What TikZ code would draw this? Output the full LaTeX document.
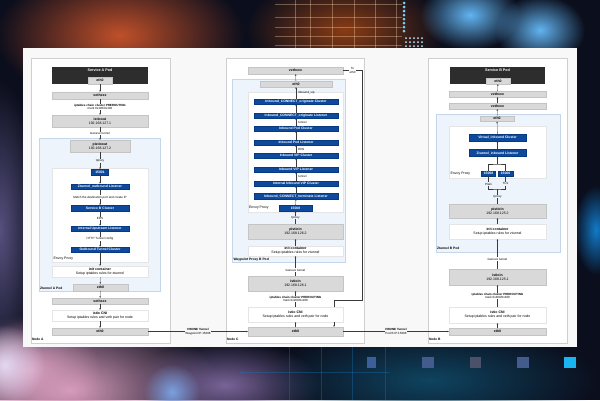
\documentclass[tikz,border=0pt]{standalone}
\usepackage{fontspec}
\setmainfont{Liberation Sans}
\usetikzlibrary{arrows.meta,fadings}

% soft blob for the backdrop
\tikzfading[name=glow, inner color=transparent!0, outer color=transparent!100]

% diagram colours
\definecolor{darkpod}{HTML}{2D2D2D}
\definecolor{greyfill}{HTML}{D9D9D9}
\definecolor{greyline}{HTML}{C4C4C4}
\definecolor{bluefill}{HTML}{0D4A9E}
\definecolor{blueline}{HTML}{083A80}
\definecolor{podfill}{HTML}{EEF4FB}
\definecolor{podline}{HTML}{C5D6EA}
\definecolor{nodeline}{HTML}{CFCFCF}
\definecolor{flowclr}{HTML}{3A3A3A}
\definecolor{panelclr}{HTML}{F8F8F8}
% backdrop colours
\definecolor{bgnavy}{HTML}{0B0E1C}
\definecolor{bgorange}{HTML}{C0502A}
\definecolor{bgrust}{HTML}{8A3C14}
\definecolor{bgpink}{HTML}{D79CBC}
\definecolor{bglilac}{HTML}{E4D8F2}
\definecolor{bgpurple}{HTML}{7A6498}
\definecolor{bgblue}{HTML}{7AA0E0}
\definecolor{bgteal}{HTML}{0F4460}
\definecolor{bgsky}{HTML}{62B4F0}
\definecolor{bgviolet}{HTML}{56507E}

\begin{document}
\begin{tikzpicture}[x=1pt, y=-1pt,
  >={Stealth[length=1.7pt,width=1.5pt]},
  every node/.style={font=\fontsize{3.5}{4.1}\selectfont, inner sep=0pt},
  nodebox/.style={draw=nodeline, fill=white, line width=0.4pt},
  podbox/.style={draw=podline, fill=podfill, line width=0.4pt},
  darkbox/.style={fill=darkpod},
  graybox/.style={draw=greyline, fill=greyfill, line width=0.3pt, align=center,
    font=\fontsize{3.5}{4.1}\selectfont\bfseries},
  whitebox/.style={draw=gray!20, fill=white, line width=0.3pt, align=center},
  bluebox/.style={draw=blueline, fill=bluefill, text=white, line width=0.3pt,
    minimum width=58, minimum height=5.5, font=\fontsize{3.4}{3.8}\selectfont\bfseries},
  lbl/.style={font=\fontsize{3}{3.5}\selectfont, align=center, inner sep=0.6pt},
  ttl/.style={font=\fontsize{3.3}{3.8}\selectfont\bfseries},
  flow/.style={draw=flowclr, line width=0.3pt},
  gridline/.style={line width=0.4pt, opacity=0.35}
]
  \useasboundingbox (0,0) rectangle (600,400);
  \clip (0,0) rectangle (600,400);

  % Backdrop
  \fill[bgnavy] (0,0) rectangle (600,400);
  \fill[bgorange, path fading=glow] (120,35) ellipse (125pt and 70pt);
  \fill[bgrust, path fading=glow] (345,30) ellipse (100pt and 55pt);
  \fill[bgviolet, path fading=glow] (0,230) ellipse (40pt and 150pt);
  \fill[bgpink, path fading=glow] (70,390) ellipse (150pt and 80pt);
  \fill[bgpink, path fading=glow] (30,370) ellipse (70pt and 50pt);
  \fill[bglilac, path fading=glow] (5,365) circle (40pt);
  \fill[bgpurple, path fading=glow] (225,385) ellipse (95pt and 45pt);
  \fill[bgblue, path fading=glow] (172,392) circle (28pt);
  \fill[bgteal, path fading=glow] (430,380) ellipse (170pt and 55pt);
  \fill[bgsky, path fading=glow] (470,15) ellipse (50pt and 35pt);
  \fill[bgsky, path fading=glow] (540,30) ellipse (45pt and 35pt);
  \fill[cyan!60!blue, path fading=glow] (596,230) ellipse (22pt and 45pt);

  % Grid lines of the backdrop
  \foreach \x in {295,310,332,354,375,396} {
    \draw[gridline, orange!30!white] (\x,0) -- (\x,48);
  }
  \foreach \y in {4,17,27,36,45} {
    \draw[gridline, orange!30!white] (275,\y) -- (402,\y);
  }
  \foreach \x in {289,321,352,385} {
    \draw[gridline, cyan!60!blue] (\x,347) -- (\x,400);
  }
  \draw[gridline, cyan!60!blue] (240,372) -- (390,372);

  % Dots and squares
  \foreach \y in {3,7,...,31} {
    \fill[cyan!55!white] (404,\y) circle (1.5pt);
  }
  \foreach \x in {406,410,...,422} {
    \foreach \y in {38,42,46} {
      \fill[cyan!25!white] (\x,\y) circle (1pt);
    }
  }
  \fill[cyan!40!blue!75!black] (367,357) rectangle (376,368);
  \fill[cyan!40!blue!65!black] (422,357) rectangle (434,368);
  \fill[cyan!40!blue!40!black] (470,357) rectangle (481,368);
  \fill[cyan!40!blue!65!black] (517,357) rectangle (529,368);
  \fill[cyan!90!white] (564,357) rectangle (576,368);

  % White panel
  \fill[panelclr] (23,48) rectangle (577,347);

  % ---------------- Node A ----------------
  \node[nodebox, minimum width=139, minimum height=285,
    label={[ttl, anchor=south west, xshift=1pt, yshift=2.5pt]south west:Node A}] (nodeA) at (100.5,200.5) {};
  \node[darkbox, minimum width=96, minimum height=17,
    label={[anchor=north, yshift=-2.2pt, text=white, font=\fontsize{3.7}{4.2}\selectfont\bfseries]north:Service A Pod}] (svcA) at (100,75.5) {};
  \node[graybox, minimum width=24, minimum height=7] (ethA1) at (100,80.5) {eth0};
  \node[graybox, minimum width=96, minimum height=7] (vethA) at (100,95.5) {vethxxx};
  \node[graybox, minimum width=96, minimum height=12] (istiooutA) at (100,121) {istioout\\\mdseries 192.168.127.1};
  \node[podbox, minimum width=121, minimum height=153,
    label={[ttl, anchor=south west, xshift=1pt, yshift=1.5pt]south west:Ztunnel A Pod}] (ztA) at (99.5,214.5) {};
  \node[graybox, minimum width=60, minimum height=12] (pistiooutA) at (100,146) {pistioout\\\mdseries 192.168.127.2};
  \node[whitebox, minimum width=96, minimum height=94,
    label={[anchor=south west, xshift=1.5pt, yshift=1.5pt]south west:Envoy Proxy}] (envoyA) at (100,215) {};
  \node[bluebox, minimum width=17] (p15001) at (100,172) {15001};
  \node[bluebox] (outL) at (100,186.5) {Ztunnel\_outbound Listener};
  \node[bluebox] (svcClA) at (100,208) {Service B Cluster};
  \node[bluebox] (upL) at (100,228.5) {Internal Upstream Listener};
  \node[bluebox] (tunCl) at (100,249.5) {Outbound Tunnel Cluster};
  \node[whitebox, minimum width=96, minimum height=11] (initA) at (100,271.5) {\textbf{init container}\\Setup iptables rules for ztunnel};
  \node[graybox, minimum width=55, minimum height=7] (ethA2) at (100.5,287.5) {eth0};
  \node[graybox, minimum width=96, minimum height=6] (vethA2) at (100,301) {vethxxx};
  \node[whitebox, minimum width=96, minimum height=11] (cniA) at (100,315.5) {\textbf{istio CNI}\\Setup iptables rules and veth pair for node};
  \node[graybox, minimum width=96, minimum height=7] (ethA3) at (100,331.5) {eth0};

  % ---------------- Node C ----------------
  \node[nodebox, minimum width=138, minimum height=285,
    label={[ttl, anchor=south west, xshift=1pt, yshift=2.5pt]south west:Node C}] (nodeC) at (295,200.5) {};
  \node[graybox, minimum width=95, minimum height=7] (vethC) at (295.5,70.5) {vethxxx};
  \node[podbox, minimum width=113, minimum height=183,
    label={[ttl, anchor=south west, xshift=1.5pt, yshift=1pt]south west:Waypoint Proxy B Pod}] (wpB) at (288.5,170.5) {};
  \node[graybox, minimum width=72, minimum height=6] (ethC1) at (296,84) {eth0};
  \node[whitebox, minimum width=95, minimum height=120,
    label={[anchor=south west, xshift=1pt, yshift=2.5pt]south west:Envoy Proxy}] (envoyC) at (295.5,152) {};
  \foreach \nm/\yy/\txt in {c1/101.5/Inbound\_CONNECT\_originate Cluster,
      c2/115.5/Inbound\_CONNECT\_originate Listener, c3/128.5/Inbound Pod Cluster,
      c4/142.5/Inbound Pod Listener, c5/155.5/Inbound VIP Cluster,
      c6/169.5/Inbound VIP Listener, c7/183.5/Internal Inbound VIP Cluster,
      c8/196/Inbound\_CONNECT\_terminate Listener} {
    \node[bluebox, minimum width=84] (\nm) at (296,\yy) {\txt};
  }
  \node[bluebox, minimum width=33] (p15008C) at (295.5,208) {15008};
  \node[graybox, minimum width=95, minimum height=15] (pistioinC) at (295.5,231.5) {pistioin\\\mdseries 192.168.126.2};
  \node[whitebox, minimum width=95, minimum height=10] (initC) at (295.5,251) {\textbf{init container}\\Setup iptables rules for ztunnel};
  \node[graybox, minimum width=95, minimum height=15] (istioinC) at (295.5,283.5) {istioin\\\mdseries 192.168.126.1};
  \node[whitebox, minimum width=95, minimum height=15] (cniC) at (295.5,314.5) {\textbf{istio CNI}\\Setup iptables rules and veth pair for node};
  \node[graybox, minimum width=95, minimum height=9] (ethC2) at (295.5,331.5) {eth0};

  % ---------------- Node B ----------------
  \node[nodebox, minimum width=139, minimum height=285,
    label={[ttl, anchor=south west, xshift=1pt, yshift=2.5pt]south west:Node B}] (nodeB) at (497.5,200.5) {};
  \node[darkbox, minimum width=95, minimum height=17,
    label={[anchor=north, yshift=-2.2pt, text=white, font=\fontsize{3.7}{4.2}\selectfont\bfseries]north:Service B Pod}] (svcB) at (497.5,75.5) {};
  \node[graybox, minimum width=24, minimum height=6] (ethB1) at (498,81) {eth0};
  \node[graybox, minimum width=97, minimum height=6] (vethB1) at (497.5,94) {vethxxx};
  \node[graybox, minimum width=97, minimum height=6] (vethB2) at (497.5,106) {vethxxx};
  \node[podbox, minimum width=124, minimum height=138,
    label={[ttl, anchor=south west, xshift=1pt, yshift=2.5pt]south west:Ztunnel B Pod}] (ztB) at (498,183) {};
  \node[graybox, minimum width=34, minimum height=5.5] (ethB2) at (497,118.5) {eth0};
  \node[whitebox, minimum width=97, minimum height=52,
    label={[anchor=south west, xshift=1.5pt, yshift=3pt]south west:Envoy Proxy}] (envoyB) at (497.5,152) {};
  \node[bluebox, minimum width=57, minimum height=7] (vclB) at (497.5,137.5) {Virtual\_inbound Cluster};
  \node[bluebox, minimum width=57, minimum height=7] (zlB) at (497.5,153) {Ztunnel\_inbound Listener};
  \node[bluebox, minimum width=14] (p15008B) at (488.5,173.5) {15008};
  \node[bluebox, minimum width=15] (p15006B) at (505.5,173.5) {15006};
  \node[graybox, minimum width=97, minimum height=14] (pistioinB) at (497.5,211) {pistioin\\\mdseries 192.168.125.2};
  \node[whitebox, minimum width=97, minimum height=15] (initB) at (497.5,231.5) {\textbf{init container}\\Setup iptables rules for ztunnel};
  \node[graybox, minimum width=97, minimum height=16] (istioinB) at (497.5,277) {istioin\\\mdseries 192.168.125.1};
  \node[whitebox, minimum width=97, minimum height=16] (cniB) at (497.5,315) {\textbf{istio CNI}\\Setup iptables rules and veth pair for node};
  \node[graybox, minimum width=97, minimum height=7] (ethB3) at (497.5,331.5) {eth0};

  % Node A: outbound path (down)
  \draw[flow,->] (ethA1) -- (vethA);
  \draw[flow,->] (vethA) -- node[lbl, fill=white]{\textbf{iptables chain cluster PREROUTING}\\mark 0x100/0x100} (istiooutA);
  \draw[flow,->] (istiooutA) -- node[lbl, fill=white]{Geneve tunnel} (pistiooutA);
  \draw[flow,->] (pistiooutA) -- node[lbl, fill=podfill]{tproxy} (p15001);
  \draw[flow,->] (p15001) -- (outL);
  \draw[flow,->] (outL) -- node[lbl, fill=white]{Match the destination port and create IP} (svcClA);
  \draw[flow,->] (svcClA) -- node[lbl, fill=white]{EDS} (upL);
  \draw[flow,->] (upL) -- node[lbl, fill=white]{HTTP Tunnel config} (tunCl);
  \foreach \a/\b in {tunCl/initA, initA/ethA2, ethA2/vethA2, vethA2/cniA, cniA/ethA3} {
    \draw[flow,->] (\a) -- (\b);
  }

  % Node C: waypoint path (up)
  \draw[flow,->] (ethC2) -- (cniC);
  \draw[flow,->] (cniC) -- node[lbl, fill=white]{\textbf{iptables chain cluster PREROUTING}\\mark 0x200/0x200} (istioinC);
  \draw[flow,->] (istioinC) -- node[lbl, fill=white, pos=0.3]{Geneve tunnel} (initC);
  \draw[flow,->] (initC) -- (pistioinC);
  \draw[flow,->] (pistioinC) -- node[lbl, fill=podfill]{tproxy} (p15008C);
  \foreach \a/\b in {p15008C/c8, c8/c7, c6/c5, c4/c3, c2/c1, ethC1/vethC} {
    \draw[flow,->] (\a) -- (\b);
  }
  \draw[flow,->] (c7) -- node[lbl, right=1.5pt]{tunnel} (c6);
  \draw[flow,->] (c5) -- node[lbl, right=1.5pt]{EDS} (c4);
  \draw[flow,->] (c3) -- node[lbl, right=1.5pt]{tunnel} (c2);
  \draw[flow,->] (c1) -- node[lbl, right=1.5pt]{inbound\_vip} (ethC1);

  % Back to eth0 of Node C
  \coordinate (rt) at (362,70.5);
  \coordinate (rb) at (362,300);
  \coordinate (rl) at (334,300);
  \draw[flow] (vethC) -- node[lbl, fill=white]{To\\eth0} (rt) -- (rb) -- (rl) -- (rl |- cniC.north);
  \draw[flow,->] (rl |- cniC.south) -- (rl |- ethC2.north);

  % Node B: inbound path (up)
  \coordinate (jn) at (497.5,189);
  \coordinate (br) at (497.5,164);
  \draw[flow,->] (ethB3) -- (cniB);
  \draw[flow,->] (cniB) -- node[lbl, fill=white]{\textbf{iptables chain cluster PREROUTING}\\mark 0x400/0x400} (istioinB);
  \draw[flow,->] (istioinB) -- node[lbl, fill=white, pos=0.33]{Geneve tunnel} (initB);
  \draw[flow,->] (initB) -- (pistioinB);
  \draw[flow] (pistioinB) -- node[lbl, fill=podfill]{tproxy} (jn);
  \draw[flow] (p15008B) |- node[lbl, fill=podfill, pos=0.3]{Plain} (jn) -| node[lbl, fill=podfill, pos=0.7]{TLS} (p15006B);
  \draw[flow] (p15008B) |- (br) -| (p15006B);
  \draw[flow,->] (br) -- (zlB);
  \foreach \a/\b in {zlB/vclB, vclB/ethB2, ethB2/vethB2, vethB2/vethB1, vethB1/ethB1} {
    \draw[flow,->] (\a) -- (\b);
  }

  % HBONE tunnels between nodes
  \draw[flow,->] (ethA3) -- node[lbl, fill=panelclr]{\textbf{HBONE Tunnel}\\Waypoint IP:15008} (ethC2);
  \draw[flow,->] (ethC2) -- node[lbl, fill=panelclr]{\textbf{HBONE Tunnel}\\Pod B IP:15008} (ethB3);
\end{tikzpicture}
\end{document}
